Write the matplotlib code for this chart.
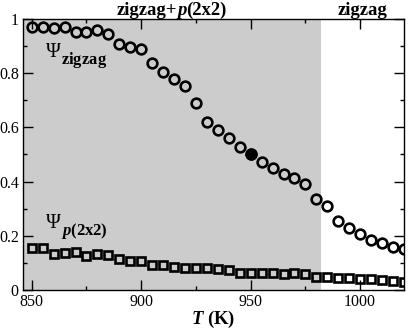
import matplotlib
matplotlib.use("Agg")
import matplotlib.pyplot as plt
from matplotlib.ticker import MultipleLocator, FuncFormatter
from matplotlib.transforms import offset_copy

plt.rcParams['font.family'] = ['Liberation Serif', 'DejaVu Serif']
plt.rcParams['mathtext.fontset'] = 'custom'
plt.rcParams['mathtext.rm'] = 'Liberation Serif'
plt.rcParams['mathtext.it'] = 'Liberation Serif:italic'
plt.rcParams['mathtext.bf'] = 'Liberation Serif:bold'
plt.rcParams['mathtext.bfit'] = 'Liberation Serif:bold:italic'

temperature = [850, 855, 860, 865, 870, 875, 880, 885, 890, 895, 900, 905, 910,
               915, 920, 925, 930, 935, 940, 945, 950, 955, 960, 965, 970, 975,
               980, 985, 990, 995, 1000, 1005, 1010, 1015, 1020]
psi_zigzag = [0.970, 0.970, 0.965, 0.970, 0.952, 0.952, 0.959, 0.942, 0.908,
              0.894, 0.887, 0.835, 0.803, 0.779, 0.753, 0.689, 0.619, 0.590,
              0.562, 0.529, 0.500, 0.473, 0.449, 0.428, 0.412, 0.390, 0.335,
              0.310, 0.255, 0.230, 0.206, 0.185, 0.173, 0.158, 0.151]
psi_p2x2 = [0.157, 0.155, 0.134, 0.136, 0.140, 0.127, 0.134, 0.130, 0.115,
            0.109, 0.109, 0.092, 0.092, 0.087, 0.081, 0.081, 0.081, 0.077,
            0.075, 0.065, 0.065, 0.063, 0.063, 0.059, 0.063, 0.059, 0.050,
            0.050, 0.044, 0.044, 0.042, 0.042, 0.038, 0.036, 0.032]
highlight_T = [950]
highlight_psi = [0.500]
coexist_range = [846, 982]
xlim = [846, 1020]
ylim = [0, 1]

fig = plt.figure(figsize=(4.08, 3.29), dpi=100)
ax = fig.add_axes([0.0564, 0.1176, 0.9336, 0.8259])

ax.axvspan(coexist_range[0], coexist_range[1], color='#cccccc', lw=0, zorder=0)

ax.plot(temperature, psi_zigzag, ls='none', marker='o', ms=7, mfc='none',
        mec='black', mew=1.9, zorder=3)
ax.plot(highlight_T, highlight_psi, ls='none', marker='o', ms=7, mfc='black',
        mec='black', mew=1.9, zorder=4)
ax.plot(temperature, psi_p2x2, ls='none', marker='s', ms=6.2, mfc='none',
        mec='black', mew=1.9, zorder=3)

ax.set_xlim(xlim)
ax.set_ylim(ylim)
ax.xaxis.set_major_locator(MultipleLocator(50))
ax.xaxis.set_minor_locator(MultipleLocator(25))
ax.yaxis.set_major_locator(MultipleLocator(0.2))
ax.yaxis.set_minor_locator(MultipleLocator(0.1))
ax.yaxis.set_major_formatter(FuncFormatter(lambda v, p: ('%g' % round(v, 3))))
ax.tick_params(which='both', direction='in', top=True, right=True,
               labelsize=11.5, width=1.0)
ax.tick_params(which='major', length=7.5, pad=3)
ax.tick_params(which='minor', length=3.2)
for s in ax.spines.values():
    s.set_linewidth(1.0)

ax.set_xlabel(r'$\mathbfit{T}$ (K)', fontsize=13.5, fontweight='bold', labelpad=-1.5)

# top region labels (composed from pieces so the p can be italic)
fig.canvas.draw()
r = fig.canvas.get_renderer()
top_tr = ax.get_xaxis_transform()
pieces = [('zigzag+', 'normal'), ('p', 'italic'), ('(2x2)', 'normal')]
objs = []
for s, st in pieces:
    objs.append(ax.text(0, 1.015, s, fontsize=13.5, fontweight='bold', style=st,
                        ha='left', va='baseline', transform=top_tr))
widths = [o.get_window_extent(r).width for o in objs]
total = sum(widths)
cx_disp = ax.transData.transform(((coexist_range[0] + coexist_range[1]) / 2, 0))[0]
x0 = cx_disp - total / 2
inv = ax.transData.inverted()
for o, w in zip(objs, widths):
    o.set_x(inv.transform((x0, 0))[0])
    x0 += w
ax.text((coexist_range[1] + xlim[1]) / 2, 1.015, 'zigzag', ha='center',
        va='baseline', fontsize=13.5, fontweight='bold', transform=top_tr)

psi1 = ax.text(856.5, 0.859, '\u03a8', fontsize=14.5, ha='left', va='baseline')
psi2 = ax.text(856.5, 0.229, '\u03a8', fontsize=14.5, ha='left', va='baseline')
fig.canvas.draw()
for t, sub in [(psi1, r'$\mathbf{zigzag}$'), (psi2, r'$\mathbfit{p}\mathbf{(2x2)}$')]:
    bb = t.get_window_extent(r)
    xr = inv.transform((bb.x1, bb.y0))[0]
    tr = offset_copy(ax.transData, fig=fig, x=0, y=-7, units='dots')
    ax.text(xr, t.get_position()[1], sub, fontsize=12, ha='left',
            va='baseline', transform=tr)

fig.savefig('out.png', dpi=100)
